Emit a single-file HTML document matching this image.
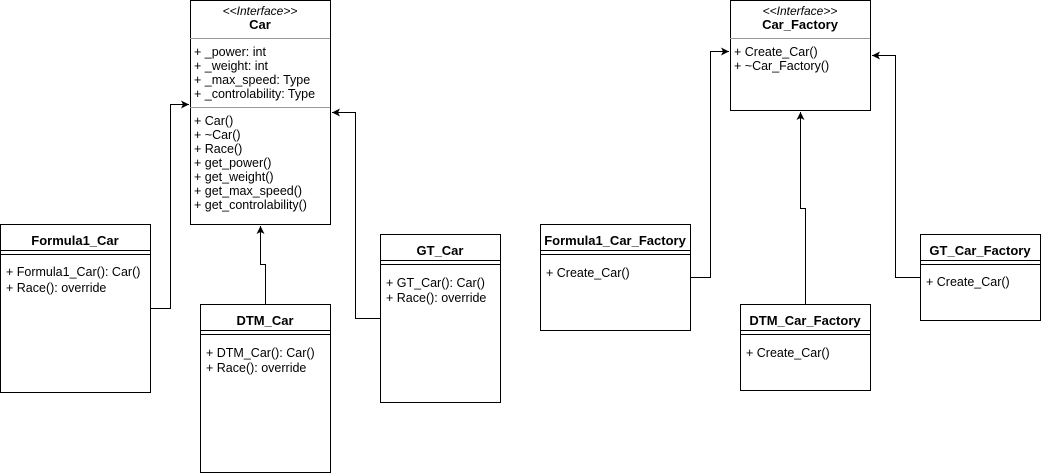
<!DOCTYPE html><html><head><style>body{margin:0;background:#fff}svg{display:block}text{font-family:"Liberation Sans",sans-serif;font-size:12.5px;fill:#000}.b{font-weight:bold;font-size:13px}.i{font-style:italic;font-size:12px}</style></head><body>
<svg width="1041" height="473" viewBox="0 0 1041 473">
<defs><marker id="a" markerWidth="10" markerHeight="10" refX="8" refY="4" orient="auto" markerUnits="userSpaceOnUse"><path d="M0,0 L8,4 L0,8 L2,4 Z" fill="#000"/></marker></defs>
<g fill="#fff" stroke="#000">
<rect x="190.5" y="0.5" width="140" height="224"/>
<rect x="0.5" y="224.5" width="150" height="168"/>
<rect x="200.5" y="304.5" width="130" height="168"/>
<rect x="380.5" y="234.5" width="120" height="168"/>
<rect x="730.5" y="0.5" width="140" height="110"/>
<rect x="540.5" y="224.5" width="150" height="106"/>
<rect x="740.5" y="304.5" width="130" height="86"/>
<rect x="920.5" y="234.5" width="120" height="86"/>
</g>
<g stroke="#999"><line x1="190" y1="38.5" x2="330" y2="38.5"/><line x1="190" y1="107.5" x2="330" y2="107.5"/><line x1="730" y1="38.5" x2="870" y2="38.5"/></g>
<g stroke="#000">
<line x1="0" y1="250.5" x2="150" y2="250.5"/><line x1="0" y1="254.5" x2="150" y2="254.5"/>
<line x1="200" y1="330.5" x2="330" y2="330.5"/><line x1="200" y1="334.5" x2="330" y2="334.5"/>
<line x1="380" y1="260.5" x2="500" y2="260.5"/><line x1="380" y1="264.5" x2="500" y2="264.5"/>
<line x1="540" y1="250.5" x2="690" y2="250.5"/><line x1="540" y1="254.5" x2="690" y2="254.5"/>
<line x1="740" y1="330.5" x2="870" y2="330.5"/><line x1="740" y1="334.5" x2="870" y2="334.5"/>
<line x1="920" y1="260.5" x2="1040" y2="260.5"/><line x1="920" y1="264.5" x2="1040" y2="264.5"/>
</g>
<g fill="none" stroke="#000" marker-end="url(#a)">
<path d="M150,308.5 H170.5 V104.5 H189"/>
<path d="M265.5,304 V264.5 H260.5 V226"/>
<path d="M380,318.5 H355.5 V112.5 H332"/>
<path d="M690,277.5 H710.5 V51.5 H729"/>
<path d="M805.5,304 V208.5 H800.5 V112"/>
<path d="M920,277.5 H895.5 V55.5 H872"/>
</g>
<text x="260" y="15" text-anchor="middle" class="i">&lt;&lt;Interface&gt;&gt;</text>
<text x="260" y="29" text-anchor="middle" class="b">Car</text>
<text x="194" y="56">+ _power: int</text><text x="194" y="70">+ _weight: int</text><text x="194" y="84">+ _max_speed: Type</text><text x="194" y="98">+ _controlability: Type</text>
<text x="194" y="125">+ Car()</text><text x="194" y="139">+ ~Car()</text><text x="194" y="153">+ Race()</text><text x="194" y="167">+ get_power()</text><text x="194" y="181">+ get_weight()</text><text x="194" y="195">+ get_max_speed()</text><text x="194" y="209">+ get_controlability()</text>
<text x="75" y="245" text-anchor="middle" class="b">Formula1_Car</text>
<text x="6" y="276">+ Formula1_Car(): Car()</text><text x="6" y="292">+ Race(): override</text>
<text x="265" y="325" text-anchor="middle" class="b">DTM_Car</text>
<text x="206" y="357">+ DTM_Car(): Car()</text><text x="206" y="372">+ Race(): override</text>
<text x="440" y="255" text-anchor="middle" class="b">GT_Car</text>
<text x="386" y="287">+ GT_Car(): Car()</text><text x="386" y="302">+ Race(): override</text>
<text x="800" y="15" text-anchor="middle" class="i">&lt;&lt;Interface&gt;&gt;</text>
<text x="800" y="29" text-anchor="middle" class="b">Car_Factory</text>
<text x="734" y="56">+ Create_Car()</text><text x="734" y="70">+ ~Car_Factory()</text>
<text x="615" y="245" text-anchor="middle" class="b">Formula1_Car_Factory</text>
<text x="546" y="277">+ Create_Car()</text>
<text x="805" y="325" text-anchor="middle" class="b">DTM_Car_Factory</text>
<text x="746" y="357">+ Create_Car()</text>
<text x="980" y="255" text-anchor="middle" class="b">GT_Car_Factory</text>
<text x="926" y="286">+ Create_Car()</text>
</svg></body></html>
